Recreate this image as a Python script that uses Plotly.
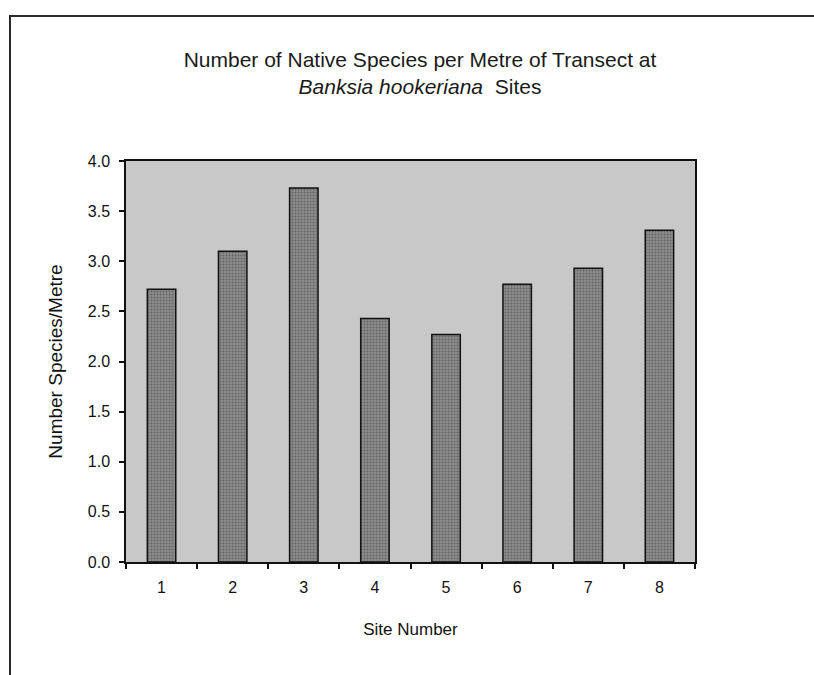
import plotly.graph_objects as go

sites = ["1", "2", "3", "4", "5", "6", "7", "8"]
species_per_metre = [2.72, 3.10, 3.73, 2.43, 2.27, 2.77, 2.93, 3.31]
y_ticks = [0.0, 0.5, 1.0, 1.5, 2.0, 2.5, 3.0, 3.5, 4.0]

title_line1 = "Number of Native Species per Metre of Transect at"
title_line2 = "<i>Banksia hookeriana</i>  Sites"
x_title = "Site Number"
y_title = "Number Species/Metre"

FONT = "Liberation Sans, Arial, sans-serif"

fig = go.Figure()
fig.add_trace(go.Bar(
    x=sites,
    y=species_per_metre,
    marker=dict(
        color="#808080",
        line=dict(color="#111111", width=1.5),
        pattern=dict(shape=".", fgcolor="#3c3c3c", bgcolor="#8c8c8c", size=3, solidity=0.35),
    ),
    showlegend=False,
))

L, R, T, B = 126, 119, 161, 113
W, H = 814, 675
pw, ph = W - L - R, H - T - B

def px_x(p):
    return (p - L) / pw

def px_y(p):
    return (H - B - p) / ph

fig.add_shape(
    type="path",
    xref="paper", yref="paper",
    path=f"M {px_x(10)} {px_y(680)} L {px_x(10)} {px_y(16)} L {px_x(820)} {px_y(16)}",
    line=dict(color="#2a2a2a", width=2),
)

fig.update_layout(
    width=W, height=H,
    margin=dict(l=L, r=R, t=T, b=B),
    paper_bgcolor="white",
    plot_bgcolor="#c8c8c8",
    bargap=0.6,
    font=dict(family=FONT, color="#111111", size=16),
    title=dict(
        text=title_line1 + "<br>" + title_line2,
        x=420 / W, xanchor="center",
        y=1 - 67 / H, yanchor="top",
        font=dict(family=FONT, size=21, color="#1a1a1a"),
    ),
    xaxis=dict(
        title=dict(text=x_title, font=dict(size=17), standoff=28),
        showline=True, linecolor="#111111", linewidth=1.5, mirror=True,
        ticks="outside", ticklen=5, tickcolor="#111111", tickwidth=1.5,
        tickson="boundaries",
        showgrid=False,
        tickfont=dict(size=16),
        ticklabelstandoff=10,
    ),
    yaxis=dict(
        title=dict(text=y_title, font=dict(size=19), standoff=20),
        range=[0, 4], tickvals=y_ticks, tickformat=".1f",
        showline=True, linecolor="#111111", linewidth=1.5, mirror=True,
        ticks="outside", ticklen=5, tickcolor="#111111", tickwidth=1.5,
        showgrid=False, zeroline=False,
        tickfont=dict(size=16),
        ticklabelstandoff=6,
    ),
)

fig.write_html("out.html")
